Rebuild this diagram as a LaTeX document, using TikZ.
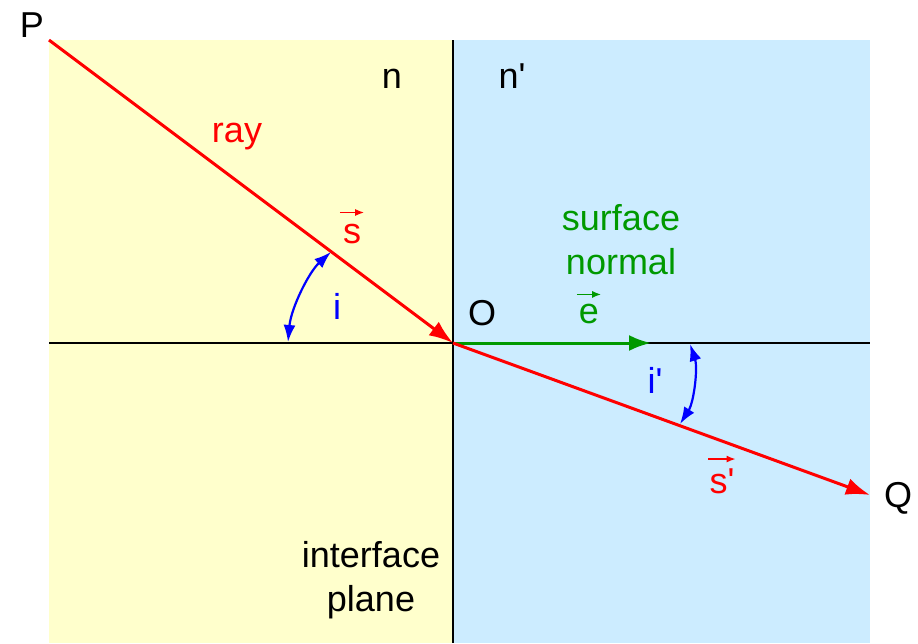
\documentclass[tikz,border=0pt]{standalone}
\usepackage{fontspec}
\setmainfont{Liberation Sans}[Ligatures=TeXOff]
\usetikzlibrary{arrows.meta}
\definecolor{yel}{HTML}{FFFFCC}
\definecolor{blu}{HTML}{CCECFF}
\definecolor{rayred}{HTML}{FF0000}
\definecolor{normgreen}{HTML}{009900}
\definecolor{angblue}{HTML}{0000FF}
\tikzset{
  lbl/.style={inner sep=0pt, anchor=base, font=\fontsize{36}{44}\selectfont},
  mlbl/.style={inner sep=0pt, anchor=center, align=center, font=\fontsize{36}{44}\selectfont},
  rayline/.style={draw=rayred, line width=3pt, -{Latex[length=24pt,width=17pt]}},
  normline/.style={draw=normgreen, line width=3pt, -{Latex[length=22pt,width=16pt]}},
  angarrow/.style={draw=angblue, line width=2.2pt, {Latex[length=17pt,width=12pt]}-{Latex[length=17pt,width=12pt]}},
  axis/.style={draw=black, line width=1.4pt},
  vecarrow/.style={line width=1.6pt, -{Latex[length=9pt,width=7pt]}},
}
\begin{document}
\begin{tikzpicture}[x=1pt,y=-1pt]
\useasboundingbox (0,0) rectangle (918,643);
\fill[yel] (49,40) rectangle (453,643);
\fill[blu] (453,40) rectangle (870,643);
\coordinate (O) at (453,343);
\coordinate (L) at (49,343);
\coordinate (R) at (870,343);
\coordinate (T) at (453,40);
\coordinate (B) at (453,643);
\draw[axis] (L) -- (R);
\draw[axis] (T) -- (B);
\coordinate (Ps) at (49,40);
\coordinate (Qe) at (870,495);
\coordinate (E) at (651,343);
\draw[normline] (O) -- (E);
\draw[rayline] (Ps) -- (O);
\draw[rayline] (O) -- (Qe);
% angle arrows
\coordinate (i1) at (288,342);
\coordinate (i2) at (331,252);
\draw[angarrow] (i1) .. controls (291,308) and (309,272) .. (i2);
\coordinate (j1) at (690,344);
\coordinate (j2) at (680,424);
\draw[angarrow] (j1) .. controls (698,368) and (694,402) .. (j2);
% labels
\node[lbl] (P) at (32,37) {P};
\node[lbl] (Q) at (898,507) {Q};
\node[lbl] (n) at (392,88) {n};
\node[lbl] (n2) at (512,88) {n'};
\node[lbl, text=rayred] (ray) at (237,142) {ray};
\node[lbl, text=rayred] (s) at (352,243) {s};
\draw[vecarrow, rayred] ([xshift=-3pt,yshift=11pt]s.north west) -- ([xshift=3pt,yshift=11pt]s.north east);
\node[lbl, text=angblue] (i) at (337,319) {i};
\node[lbl] (Olbl) at (482,325) {O};
\node[mlbl, text=normgreen] (sn) at (621,240) {surface\\normal};
\node[lbl, text=normgreen] (e) at (589,323) {e};
\draw[vecarrow, normgreen] ([xshift=-2pt,yshift=9pt]e.north west) -- ([xshift=2pt,yshift=9pt]e.north east);
\node[lbl, text=angblue] (ip) at (655,393) {i'};
\node[lbl, text=rayred] (sp) at (722,493) {s'};
\draw[vecarrow, rayred] ([xshift=-1pt,yshift=9pt]sp.north west) -- ([xshift=1pt,yshift=9pt]sp.north east);
\node[mlbl] (ip2) at (371,580) {interface\\plane};
\end{tikzpicture}
\end{document}
